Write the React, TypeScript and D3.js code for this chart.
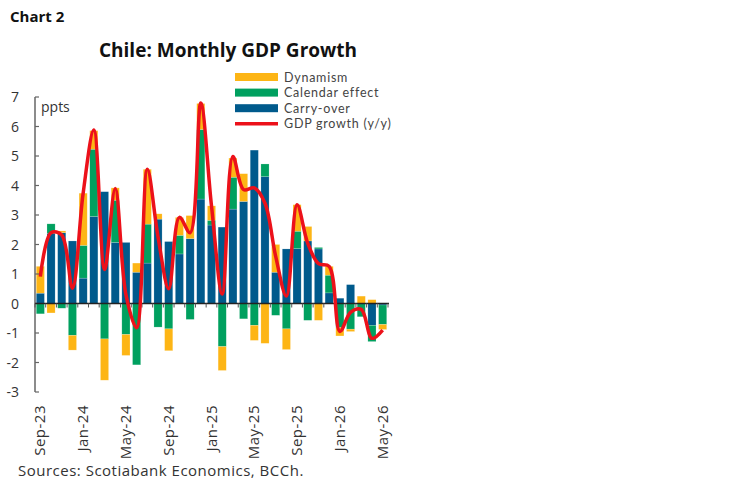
import React from "react";
import * as d3 from "d3";

const months = [
  "Sep-23","Oct-23","Nov-23","Dec-23","Jan-24","Feb-24","Mar-24","Apr-24","May-24","Jun-24","Jul-24","Aug-24",
  "Sep-24","Oct-24","Nov-24","Dec-24","Jan-25","Feb-25","Mar-25","Apr-25","May-25","Jun-25","Jul-25","Aug-25",
  "Sep-25","Oct-25","Nov-25","Dec-25","Jan-26","Feb-26","Mar-26","Apr-26","May-26",
];
const carryOver = [
  0.35, 2.38, 2.4, 2.12, 0.86, 2.95, 3.79, 2.07, 2.07, 1.06, 1.37, 2.86,
  2.1, 1.68, 2.2, 3.54, 2.66, 2.59, 3.2, 3.46, 5.2, 4.3, 1.06, 1.85,
  1.86, 2.12, 1.85, 0.36, 0.18, 0.64, 0.0, -0.74, -0.05,
];
const calendarEffect = [
  -0.35, 0.32, -0.16, -1.08, 1.11, 2.28, -1.2, 1.43, -1.05, -2.08, 1.32, -0.8,
  -0.86, 0.63, -0.54, 2.36, 0.16, -1.46, 1.08, -0.52, -0.74, 0.43, -0.4, -0.86,
  0.59, -0.57, 0.05, 0.6, -0.82, -0.87, -0.45, -0.55, -0.66,
];
const dynamism = [
  0.91, -0.32, 0.06, -0.5, 1.77, 0.63, -1.4, 0.42, -0.71, 0.31, 1.86, 0.18,
  -0.74, 0.61, 0.78, 0.88, 0.49, -0.81, 0.65, 0.94, -0.51, -1.35, 0.94, -0.7,
  0.9, 0.49, -0.57, 0.3, -0.28, -0.08, 0.25, 0.13, -0.17,
];
const gdpGrowth = [
  0.91, 2.4, 2.32, 0.52, 3.74, 5.88, 1.15, 3.9, 0.3, -0.82, 4.55, 2.26,
  0.5, 2.92, 2.4, 6.8, 3.31, 0.32, 4.98, 3.86, 3.92, 3.4, 1.6, 0.25,
  3.35, 2.04, 1.35, 1.26, -0.95, -0.3, -0.2, -1.18, -0.9,
];
const yTicks = [-3, -2, -1, 0, 1, 2, 3, 4, 5, 6, 7];
const xTickLabels = ["Sep-23", "Jan-24", "May-24", "Sep-24", "Jan-25", "May-25", "Sep-25", "Jan-26", "May-26"];
const seriesKeys = ["carry", "calendar", "dynamism"];
const legendLabels = ["Dynamism", "Calendar effect", "Carry-over", "GDP growth (y/y)"];

const COLORS: Record<string, string> = {
  carry: "#005A8C",
  calendar: "#00A05F",
  dynamism: "#FDB515",
  line: "#EC111A",
};

const FONT = "'Open Sans', 'Noto Sans', sans-serif";

export default function App() {
  const W = 749, H = 483;
  const left = 35, right = 388, top = 97, bottom = 392;

  const rows = months.map((m, i) => ({
    month: m,
    carry: carryOver[i],
    calendar: calendarEffect[i],
    dynamism: dynamism[i],
  }));

  const x = d3.scaleBand<string>().domain(months).range([left, right]).paddingInner(0.24).paddingOuter(0.12);
  const y = d3.scaleLinear().domain([-3, 7]).range([bottom, top]);

  const stacked = d3.stack<any>().keys(seriesKeys).offset(d3.stackOffsetDiverging)(rows);

  const line = d3
    .line<number>()
    .x((_, i) => (x(months[i]) as number) + x.bandwidth() / 2)
    .y((d) => y(d))
    .curve(d3.curveCatmullRom.alpha(0.5));

  const step = x.step();
  const legendItems = [
    { label: legendLabels[0], color: COLORS.dynamism, type: "bar" },
    { label: legendLabels[1], color: COLORS.calendar, type: "bar" },
    { label: legendLabels[2], color: COLORS.carry, type: "bar" },
    { label: legendLabels[3], color: COLORS.line, type: "line" },
  ];

  return (
    <svg width={W} height={H} style={{ position: "absolute", left: 0, top: 0, background: "#fff" }} fontFamily={FONT}>
      <rect x={0} y={0} width={W} height={H} fill="#fff" />
      <text x={10} y={22} fontSize={15} fontWeight={700} fill="#111">Chart 2</text>
      <text x={228} y={57} fontSize={19} fontWeight={700} fill="#111" textAnchor="middle">
        Chile: Monthly GDP Growth
      </text>

      {/* bars */}
      {stacked.map((s) => (
        <g key={s.key} fill={COLORS[s.key]}>
          {s.map((d, i) => {
            const y0 = y(d[0]);
            const y1 = y(d[1]);
            const h = Math.abs(y0 - y1);
            if (h < 0.01) return null;
            return (
              <rect
                key={i}
                x={x(months[i])}
                width={x.bandwidth()}
                y={Math.min(y0, y1)}
                height={h}
                stroke="#ffffff"
                strokeOpacity={0.35}
                strokeWidth={0.5}
              />
            );
          })}
        </g>
      ))}

      {/* y axis */}
      <line x1={left} x2={left} y1={top} y2={bottom} stroke="#666" strokeWidth={1.5} />
      {yTicks.map((t) => (
        <g key={t}>
          <line x1={left} x2={left + 4} y1={y(t)} y2={y(t)} stroke="#666" strokeWidth={1.2} />
          <text x={19} y={y(t) + 5} fontSize={14} fill="#333" textAnchor="end">{t}</text>
        </g>
      ))}
      <text x={41} y={112} fontSize={14} fill="#333">ppts</text>

      {/* x axis at zero */}
      <line x1={left} x2={right + 1} y1={y(0)} y2={y(0)} stroke="#222" strokeWidth={1.3} />
      {months.map((m) => {
        const tx = (x(m) as number) - (step * x.paddingInner()) / 2;
        return <line key={m} x1={tx} x2={tx} y1={y(0)} y2={y(0) + 4} stroke="#555" strokeWidth={1} />;
      })}
      <line x1={right} x2={right} y1={y(0)} y2={y(0) + 4} stroke="#555" strokeWidth={1} />

      {/* gdp line */}
      <path d={line(gdpGrowth) || ""} fill="none" stroke={COLORS.line} strokeWidth={3.5} strokeLinejoin="round" />

      {/* x labels */}
      {months.map((m) =>
        xTickLabels.includes(m) ? (
          <text
            key={m}
            transform={`translate(${(x(m) as number) + x.bandwidth() / 2 + 5},405) rotate(-90)`}
            fontSize={15}
            letterSpacing={0.5}
            fill="#333"
            textAnchor="end"
          >
            {m}
          </text>
        ) : null
      )}

      {/* legend */}
      {legendItems.map((it, i) => {
        const ly = 77 + i * 15.6;
        return (
          <g key={it.label}>
            {it.type === "bar" ? (
              <rect x={235} y={ly - 4} width={43} height={8} fill={it.color} />
            ) : (
              <line x1={235} x2={278} y1={ly} y2={ly} stroke={it.color} strokeWidth={3.5} />
            )}
            <text x={284} y={ly + 4.5} fontSize={12.5} letterSpacing={0.75} fontFamily="Lato, sans-serif" fill="#444">
              {it.label}
            </text>
          </g>
        );
      })}

      <text x={18} y={476} fontSize={15} letterSpacing={0.5} fill="#333">Sources: Scotiabank Economics, BCCh.</text>
    </svg>
  );
}
